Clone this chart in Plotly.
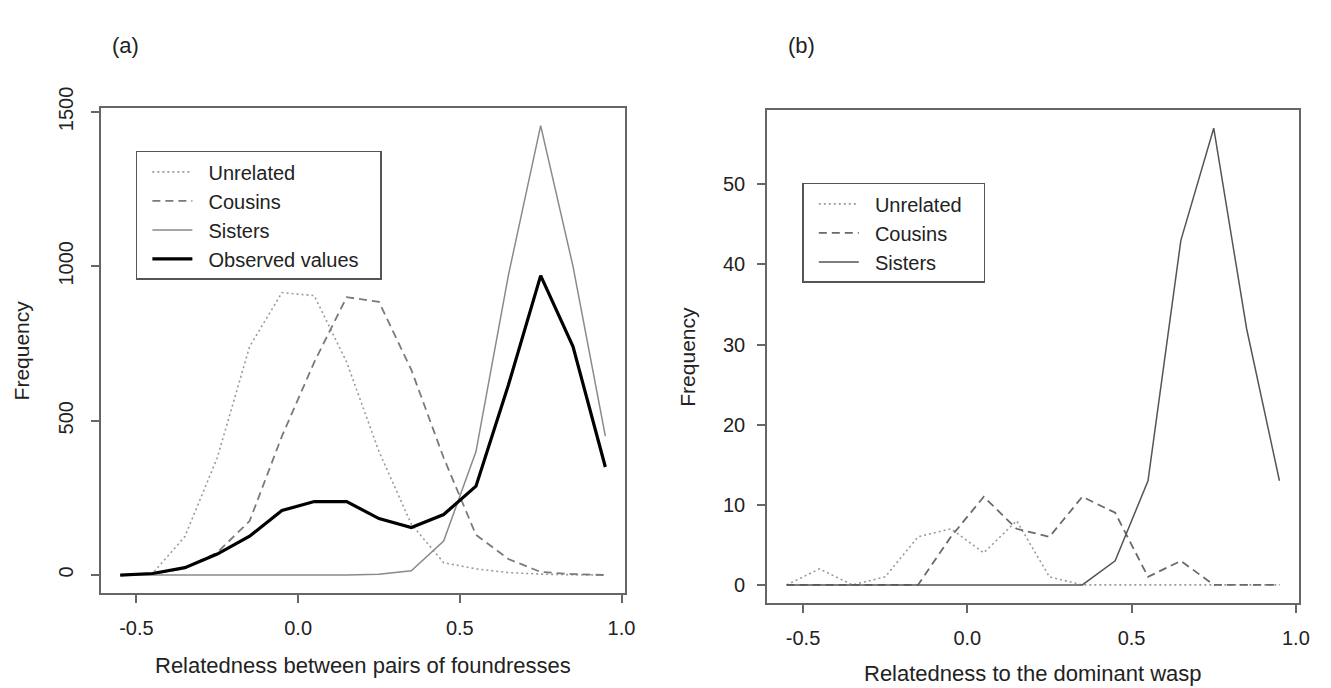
import plotly.graph_objects as go

# Bin centres (relatedness)
relatedness = [-0.55, -0.45, -0.35, -0.25, -0.15, -0.05, 0.05, 0.15,
               0.25, 0.35, 0.45, 0.55, 0.65, 0.75, 0.85, 0.95]

# Panel (a): relatedness between pairs of foundresses
unrelated_a = [0, 5, 125, 380, 740, 915, 905, 690, 400, 165, 40, 20, 8, 3, 1, 0]
cousins_a = [0, 3, 22, 73, 175, 450, 690, 900, 885, 665, 380, 130, 52, 10, 3, 0]
sisters_a = [0, 0, 0, 0, 0, 0, 0, 0, 3, 14, 110, 400, 970, 1456, 1000, 450]
observed_a = [0, 5, 24, 68, 126, 209, 238, 238, 183, 154, 196, 288, 615, 970, 740, 350]

# Panel (b): relatedness to the dominant wasp
unrelated_b = [0, 2, 0, 1, 6, 7, 4, 8, 1, 0, 0, 0, 0, 0, 0, 0]
cousins_b = [0, 0, 0, 0, 0, 6, 11, 7, 6, 11, 9, 1, 3, 0, 0, 0]
sisters_b = [0, 0, 0, 0, 0, 0, 0, 0, 0, 0, 3, 13, 43, 57, 32, 13]

x_ticks = [-0.5, 0.0, 0.5, 1.0]
x_tick_labels = ["-0.5", "0.0", "0.5", "1.0"]
y_ticks_a = [0, 500, 1000, 1500]
y_ticks_b = [0, 10, 20, 30, 40, 50]

FONT = "Liberation Sans, Arial, Helvetica, sans-serif"
TXT = "#222222"
AX = "#666666"
FS = 20
GAP = "\u00a0\u00a0"
TAIL = "\u00a0\u00a0\u00a0"

fig = go.Figure()

# Panel (a)
fig.add_trace(go.Scatter(x=relatedness, y=unrelated_a, mode="lines", name=GAP + "Unrelated",
                         line=dict(color="#9a9a9a", width=1.6, dash="2px,3px"),
                         xaxis="x", yaxis="y", legend="legend"))
fig.add_trace(go.Scatter(x=relatedness, y=cousins_a, mode="lines", name=GAP + "Cousins",
                         line=dict(color="#7a7a7a", width=1.8, dash="8px,5px"),
                         xaxis="x", yaxis="y", legend="legend"))
fig.add_trace(go.Scatter(x=relatedness, y=sisters_a, mode="lines", name=GAP + "Sisters",
                         line=dict(color="#8a8a8a", width=1.5),
                         xaxis="x", yaxis="y", legend="legend"))
fig.add_trace(go.Scatter(x=relatedness, y=observed_a, mode="lines",
                         name=GAP + "Observed values" + TAIL,
                         line=dict(color="#000000", width=3.2),
                         xaxis="x", yaxis="y", legend="legend"))

# Panel (b)
fig.add_trace(go.Scatter(x=relatedness, y=unrelated_b, mode="lines",
                         name=GAP + "Unrelated" + TAIL,
                         line=dict(color="#9a9a9a", width=1.6, dash="2px,3px"),
                         xaxis="x2", yaxis="y2", legend="legend2"))
fig.add_trace(go.Scatter(x=relatedness, y=cousins_b, mode="lines", name=GAP + "Cousins",
                         line=dict(color="#6a6a6a", width=1.8, dash="8px,5px"),
                         xaxis="x2", yaxis="y2", legend="legend2"))
fig.add_trace(go.Scatter(x=relatedness, y=sisters_b, mode="lines", name=GAP + "Sisters",
                         line=dict(color="#555555", width=1.5),
                         xaxis="x2", yaxis="y2", legend="legend2"))

common_axis = dict(showgrid=False, zeroline=False, showline=True, mirror=True,
                   linecolor=AX, linewidth=1.5, ticks="outside", ticklen=8,
                   tickcolor=AX, tickwidth=1.5,
                   tickfont=dict(family=FONT, size=FS, color=TXT))

legend_common = dict(xanchor="left", yanchor="top", bordercolor="#555555",
                     borderwidth=1.5, bgcolor="rgba(255,255,255,0)",
                     font=dict(family=FONT, size=FS, color=TXT), itemwidth=40,
                     tracegroupgap=0, indentation=10)

fig.update_layout(
    width=1331, height=688,
    margin=dict(l=0, r=0, t=0, b=0),
    paper_bgcolor="white", plot_bgcolor="white",
    font=dict(family=FONT, size=FS, color=TXT),
    showlegend=True,
    xaxis=dict(domain=[0.0764, 0.4733], range=[-0.61, 1.01], tickvals=x_ticks,
               ticktext=x_tick_labels, ticklabelstandoff=8, anchor="y", **common_axis),
    yaxis=dict(domain=[0.1424, 0.8702], range=[-58.2, 1514.2], tickvals=y_ticks_a,
               tickangle=-90, ticklabelstandoff=10, anchor="x", **common_axis),
    xaxis2=dict(domain=[0.581, 0.9842], range=[-0.61, 1.01], tickvals=x_ticks,
                ticktext=x_tick_labels, ticklabelstandoff=8, anchor="y2", **common_axis),
    yaxis2=dict(domain=[0.1272, 0.8667], range=[-2.28, 59.28], tickvals=y_ticks_b,
                ticklabelstandoff=8, anchor="x2", **common_axis),
    legend=dict(x=137 / 1331, y=1 - 134 / 688, **legend_common),
    legend2=dict(x=809 / 1331, y=1 - 167 / 688, **legend_common),
    annotations=[
        dict(text="(a)", x=127 / 1331, y=1 - 25 / 688, xref="paper", yref="paper",
             showarrow=False, xanchor="center", yanchor="middle", font=dict(size=22)),
        dict(text="(b)", x=808 / 1331, y=1 - 25 / 688, xref="paper", yref="paper",
             showarrow=False, xanchor="center", yanchor="middle", font=dict(size=22)),
        dict(text="Relatedness between pairs of foundresses", x=366 / 1331, y=1 - 665 / 688,
             xref="paper", yref="paper", showarrow=False, xanchor="center",
             yanchor="middle", font=dict(size=22)),
        dict(text="Relatedness to the dominant wasp", x=1042 / 1331, y=1 - 673 / 688,
             xref="paper", yref="paper", showarrow=False, xanchor="center",
             yanchor="middle", font=dict(size=22)),
        dict(text="Frequency", x=22 / 1331, y=1 - 340 / 688, xref="paper", yref="paper",
             showarrow=False, xanchor="center", yanchor="middle", textangle=-90,
             font=dict(size=21)),
        dict(text="Frequency", x=693 / 1331, y=1 - 346 / 688, xref="paper", yref="paper",
             showarrow=False, xanchor="center", yanchor="middle", textangle=-90,
             font=dict(size=21)),
    ],
)

fig.write_html(
    "out.html",
    config={"displayModeBar": False},
    post_script="document.body.style.margin='0px';document.body.style.overflow='hidden';",
)
